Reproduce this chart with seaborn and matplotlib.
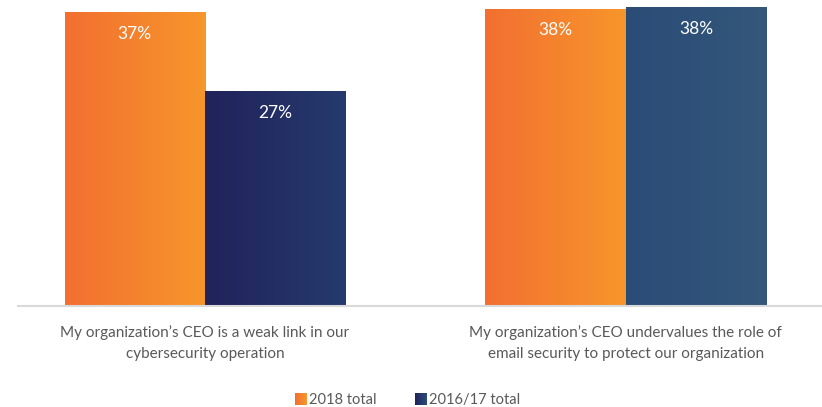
import numpy as np
import pandas as pd
import matplotlib
matplotlib.use("Agg")
import matplotlib.pyplot as plt
import seaborn as sns
from matplotlib.patches import Rectangle
from matplotlib.legend_handler import HandlerBase
from matplotlib.colors import to_rgb

categories = ["My organization\u2019s CEO is a weak link in our\ncybersecurity operation",
              "My organization\u2019s CEO undervalues the role of\nemail security to protect our organization"]
series = ["2018 total", "2016/17 total"]
values_2018 = [37.3, 37.7]
values_2017 = [27.2, 37.9]
bar_labels_2018 = ["37%", "38%"]
bar_labels_2017 = ["27%", "38%"]

df = pd.DataFrame({
    "category": categories * 2,
    "series": [series[0]] * 2 + [series[1]] * 2,
    "value": values_2018 + values_2017,
})

sns.set_theme(style="white")
plt.rcParams['font.family'] = ['Lato', 'DejaVu Sans']

fig = plt.figure(figsize=(8.22, 4.07), dpi=100)
ax = fig.add_axes([18 / 822, 1 - 306 / 407, 1 - 18 / 822, 306 / 407])

sns.barplot(data=df, x="category", y="value", hue="series", hue_order=series,
            palette=["#f5822e", "#233266"], width=0.667, ax=ax, legend=False,
            saturation=1, linewidth=0)

# gradient fills (left -> right)
grads = [
    [("#f26f31", "#f7962b"), ("#f26f31", "#f7962b")],   # 2018 total
    [("#21235b", "#253a6d"), ("#2a4c77", "#34577a")],   # 2016/17 total
]
labels = [bar_labels_2018, bar_labels_2017]
patches = ax.patches
n = len(categories)
for i, p in enumerate(patches):
    h = i // n
    c = i % n
    c0, c1 = grads[h][c]
    x0, y0 = p.get_x(), p.get_y()
    w, ht = p.get_width(), p.get_height()
    t = np.linspace(0, 1, 256)
    rgb = np.array([np.array(to_rgb(c0)) * (1 - tt) + np.array(to_rgb(c1)) * tt for tt in t])
    img = rgb[np.newaxis, :, :]
    p.set_facecolor("none")
    im = ax.imshow(img, extent=[x0, x0 + w, y0, y0 + ht], aspect="auto", zorder=2,
                   interpolation="bilinear")
    im.set_clip_path(p)
    ax.text(x0 + w / 2, y0 + ht - 2.75, labels[h][c], ha="center", va="center",
            color="white", fontsize=12.5, zorder=3)

ax.set_xlim(-0.444, 1.466)
ax.set_ylim(0, 38.8)
ax.set_xlabel("")
ax.set_ylabel("")
ax.set_yticks([])
ax.tick_params(axis="x", length=0, pad=14, labelsize=11, labelcolor="#595959")
for lbl in ax.get_xticklabels():
    lbl.set_linespacing(1.65)
for s in ["top", "right", "left"]:
    ax.spines[s].set_visible(False)
ax.spines["bottom"].set_color("#d9d9d9")
ax.spines["bottom"].set_linewidth(1.5)


class GradHandler(HandlerBase):
    def __init__(self, c0, c1):
        super().__init__()
        self.c0, self.c1 = np.array(to_rgb(c0)), np.array(to_rgb(c1))

    def create_artists(self, legend, orig_handle, xdescent, ydescent, width, height, fontsize, trans):
        arts = []
        N = 12
        size = height * 1.1
        x0 = -xdescent + width - size
        y0 = -ydescent + (height - size) / 2
        for k in range(N):
            tt = k / (N - 1)
            col = self.c0 * (1 - tt) + self.c1 * tt
            r = Rectangle((x0 + k * size / N, y0), size / N + 0.3, size, facecolor=col,
                          edgecolor="none", transform=trans)
            arts.append(r)
        return arts


h1 = Rectangle((0, 0), 1, 1)
h2 = Rectangle((0, 1), 1, 1)
leg = fig.legend([h1, h2], series, loc="center", bbox_to_anchor=(0.496, 0.017),
                 ncol=2, frameon=False, fontsize=10.5, labelcolor="#595959",
                 handler_map={h1: GradHandler("#f26f31", "#f7962b"),
                              h2: GradHandler("#21235b", "#2a4c77")},
                 handlelength=0.8, handletextpad=0.2, columnspacing=2.6)

fig.savefig("out.png", dpi=100)
